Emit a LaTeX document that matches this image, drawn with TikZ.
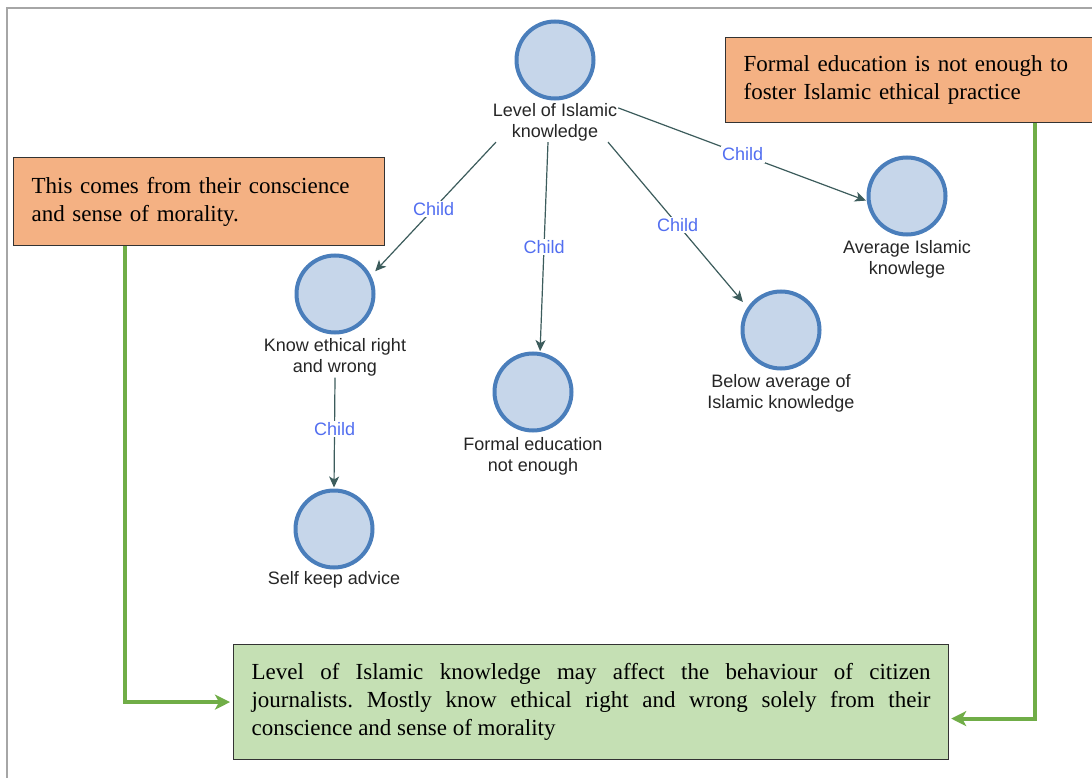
\documentclass[tikz,border=0pt]{standalone}
\usepackage{fontspec}
\setmainfont{Liberation Serif}
\newfontfamily\labelfont{Liberation Sans}
\usetikzlibrary{arrows.meta,calc}
\frenchspacing

\definecolor{nodeblue}{RGB}{74,126,187}
\definecolor{nodefill}{RGB}{198,214,234}
\definecolor{linkcol}{RGB}{60,92,92}
\definecolor{childblue}{RGB}{82,110,240}
\definecolor{notefill}{RGB}{244,177,131}
\definecolor{sumfill}{RGB}{197,224,180}
\definecolor{greenline}{RGB}{112,173,71}
\definecolor{framegray}{RGB}{166,166,166}

\tikzset{
  concept/.style={circle, draw=nodeblue, line width=4pt, fill=nodefill,
    minimum size=77pt, inner sep=0pt},
  caption/.style={font=\labelfont\fontsize{18}{21}\selectfont, align=center,
    text=black!85, inner sep=1pt},
  link/.style={draw=linkcol, line width=1.2pt,
    -{Stealth[length=11pt,width=10pt,inset=3pt]}},
  childlbl/.style={font=\labelfont\fontsize{18}{21}\selectfont, text=childblue,
    fill=white, inner sep=1.5pt},
  notebox/.style={draw=black!80, line width=1.2pt, fill=notefill,
    font=\fontsize{23}{28}\selectfont, align=left, anchor=north west,
    inner xsep=18pt, inner ysep=0pt},
  sumbox/.style={draw=black!80, line width=1.2pt, fill=sumfill,
    font=\fontsize{23}{28}\selectfont, align=justify, anchor=north west,
    inner xsep=18pt, inner ysep=0pt},
  greenlink/.style={draw=greenline, line width=4pt,
    -{Stealth[length=15pt,width=15pt,inset=4pt]}}
}

\begin{document}
\begin{tikzpicture}[x=1pt,y=-1pt]
\useasboundingbox (0,0) rectangle (1092,778);
\fill[white] (0,0) rectangle (1092,778);

% outer frame
\draw[framegray, line width=1.5pt] (7,778) -- (7,8) -- (1092,8);

% concept circles
\node[concept] (lvl) at (555,60) {};
\node[concept] (know) at (335,294) {};
\node[concept] (self) at (334,529) {};
\node[concept] (formal) at (533,392) {};
\node[concept] (below) at (781,330) {};
\node[concept] (avg) at (907,196) {};

% captions
\node[caption] (lvlT) at (555,122) {Level of Islamic\\knowledge};
\node[caption] (knowT) at (335,357.5) {Know ethical right\\and wrong};
\node[caption] (selfT) at (334,580) {Self keep advice};
\node[caption] (formalT) at (533,456.5) {Formal education\\not enough};
\node[caption] (belowT) at (781,393) {Below average of\\Islamic knowledge};
\node[caption] (avgT) at (907,259) {Average Islamic\\knowlege};

% child links
\draw[link, shorten >=6pt] ($(lvlT.south)+(-59,0)$) -- (know.27)
  node[childlbl, pos=0.5] {Child};
\draw[link, shorten >=1pt] ($(lvlT.south)+(-7,0)$) -- (formal.80)
  node[childlbl, pos=0.5] {Child};
\draw[link, shorten >=7pt] ($(lvlT.south)+(53,0)$) -- (below.146)
  node[childlbl, pos=0.5] {Child};
\draw[link, shorten >=1pt] ($(lvlT.north east)+(0,6)$) -- (avg.-173)
  node[childlbl, pos=0.5] {Child};
\draw[link, shorten >=1pt] (knowT.south) -- (self.north)
  node[childlbl, pos=0.46] {Child};

% notes
\node[notebox, minimum width=371pt, minimum height=88pt, text width=335pt]
  (noteL) at (13,157) {This comes from their conscience\\and sense of morality.};
\node[notebox, minimum width=380pt, minimum height=85pt, text width=344pt]
  (noteR) at (725,37) {Formal education is not enough to\\foster Islamic ethical practice};

% summary, justified over its first two lines
\node[sumbox, minimum width=715pt, minimum height=115pt, text width=679pt]
  (summary) at (233,644) {%
  Level of Islamic knowledge may affect the behaviour of citizen\linebreak
  journalists. Mostly know ethical right and wrong solely from their\linebreak
  conscience and sense of morality};

% green connectors
\draw[greenlink, shorten >=3pt] ($(noteL.south west)+(112,0)$) |- (summary.west);
\draw[greenlink, shorten >=2pt] ($(noteR.south west)+(310,0)$) |- ($(summary.east)+(0,16.5)$);
\end{tikzpicture}
\end{document}
